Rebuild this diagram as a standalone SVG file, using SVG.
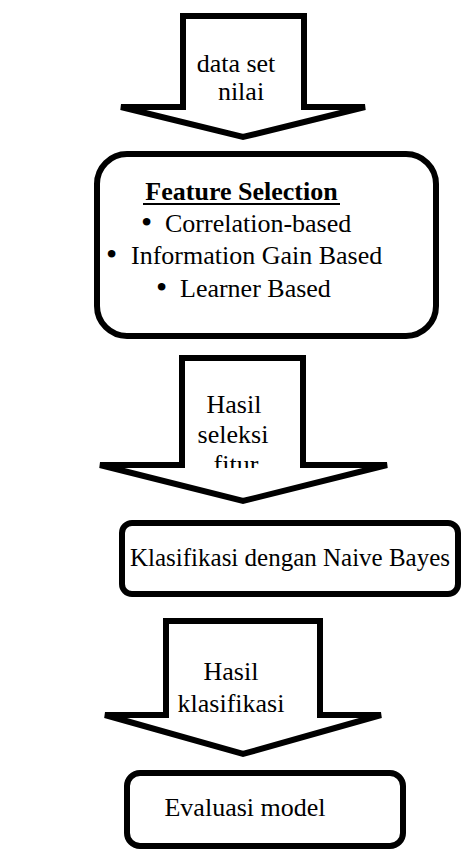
<svg xmlns="http://www.w3.org/2000/svg" width="461" height="849" viewBox="0 0 461 849">
<style>
.shape{fill:#fff;stroke:#000;stroke-width:6}
.t{font-family:"Liberation Serif","Times New Roman",serif;font-size:26px;fill:#000}
.m{text-anchor:middle}
.b{font-weight:bold}
.bul{font-family:"Liberation Serif","Times New Roman",serif;font-size:32px;fill:#000}
</style>
<defs>
<clipPath id="clipFitur"><rect x="150" y="440" width="180" height="28"/></clipPath>
</defs>
<rect width="461" height="849" fill="#fff"/>
<g id="connectors">
<g id="arrow1">
<polygon class="shape" points="183,16 304,16 304,107 365,107 243,137 121,107 183,107"/>
<text class="t m" x="236" y="72">data set</text>
<text class="t m" x="241" y="100">nilai</text>
</g>
<g id="arrow2">
<polygon class="shape" points="182,358 303,358 303,465 387,465 243,501 100,465 182,465"/>
<text class="t m" x="234" y="413">Hasil</text>
<text class="t m" x="233" y="443">seleksi</text>
<text class="t m" x="236" y="473" clip-path="url(#clipFitur)">fitur</text>
</g>
<g id="arrow3">
<polygon class="shape" points="166,621 320,621 320,715 381,715 243,754 105,715 166,715"/>
<text class="t m" x="231" y="680">Hasil</text>
<text class="t m" x="231" y="712">klasifikasi</text>
</g>
</g>
<g id="feature-selection">
<rect class="shape" x="97" y="154" width="339" height="182" rx="30" ry="30"/>
<text class="t m b" x="241.5" y="200">Feature Selection</text>
<line x1="143" y1="204" x2="340" y2="204" stroke="#000" stroke-width="2"/>
<text class="bul" x="141" y="233">•</text>
<text class="t" x="165" y="232">Correlation-based</text>
<text class="bul" x="106" y="265">•</text>
<text class="t" x="131" y="264">Information Gain Based</text>
<text class="bul" x="156" y="298">•</text>
<text class="t" x="180" y="297">Learner Based</text>
</g>
<g id="klasifikasi">
<rect class="shape" x="122" y="523" width="336" height="71" rx="10" ry="10"/>
<text class="t" x="130" y="566" style="font-size:25px">Klasifikasi dengan Naive Bayes</text>
</g>
<g id="evaluasi">
<rect class="shape" x="127" y="773" width="276" height="73" rx="13" ry="13"/>
<text class="t m" x="245" y="816">Evaluasi model</text>
</g>
</svg>
